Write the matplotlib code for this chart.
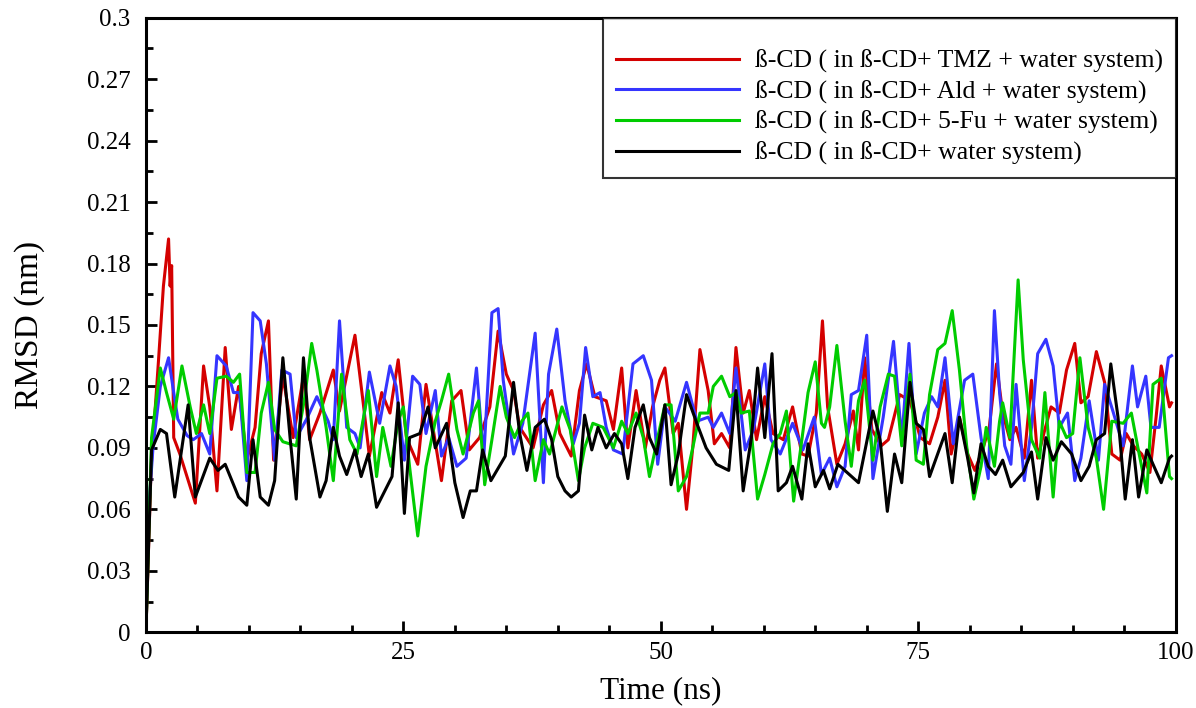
import numpy as np
import matplotlib
matplotlib.use("Agg")
import matplotlib.pyplot as plt
from matplotlib.ticker import MultipleLocator, FuncFormatter

plt.rcParams["font.family"] = ["Liberation Serif", "DejaVu Serif"]

# values (time in ns, RMSD in nm)
t_tmz = [0, 0.5, 1.2, 1.7, 2.2, 2.35, 2.5, 2.7, 3.3, 4.8, 5.6, 6.2, 6.9, 7.7, 8.3, 9.0, 9.8,
         10.6, 11.2, 11.9, 12.4, 13.3, 14.3, 15.3, 15.9, 16.9, 18.2, 18.8, 20.3, 21.1, 21.7,
         22.9, 23.7, 24.5, 25.3, 26.4, 27.2, 27.9, 28.7, 29.7, 30.6, 31.4, 32.4, 33.4, 34.2,
         35.0, 35.7, 36.3, 37.6, 38.6, 39.4, 40.2, 41.3, 42.1, 42.8, 43.6, 44.7, 45.4, 46.2,
         46.8, 47.6, 48.5, 49.2, 49.9, 50.4, 51.2, 51.7, 52.5, 53.1, 53.8, 54.6, 55.2, 55.9,
         56.7, 57.3, 58.0, 58.6, 59.3, 60.1, 60.9, 61.9, 62.8, 63.7, 64.3, 65.1, 65.7, 66.2,
         67.1, 67.9, 68.7, 69.2, 69.8, 70.5, 71.4, 72.1, 73.2, 74.2, 75.2, 76.1, 76.9, 77.6,
         78.2, 79.0, 79.8, 80.5, 81.3, 81.9, 82.6, 83.2, 83.9, 84.5, 85.3, 86.0, 86.6, 87.3,
         87.9, 88.7, 89.4, 90.2, 90.8, 91.5, 92.3, 93.1, 93.8, 94.6, 95.2, 95.9, 96.7, 97.5,
         98.1, 98.6, 99.4, 99.6]
rmsd_tmz = [0.0, 0.080, 0.131, 0.169, 0.192, 0.169, 0.179, 0.095, 0.087, 0.063, 0.130, 0.110,
            0.069, 0.139, 0.099, 0.120, 0.084, 0.100, 0.136, 0.152, 0.084, 0.125, 0.095, 0.125,
            0.094, 0.107, 0.128, 0.108, 0.145, 0.112, 0.086, 0.117, 0.107, 0.133, 0.095, 0.082,
            0.121, 0.099, 0.074, 0.113, 0.118, 0.089, 0.095, 0.110, 0.147, 0.126, 0.118, 0.100,
            0.090, 0.111, 0.118, 0.097, 0.086, 0.118, 0.131, 0.115, 0.113, 0.099, 0.129, 0.090,
            0.118, 0.090, 0.110, 0.123, 0.129, 0.097, 0.102, 0.060, 0.090, 0.138, 0.118, 0.092,
            0.097, 0.090, 0.139, 0.107, 0.118, 0.094, 0.115, 0.097, 0.094, 0.110, 0.087, 0.086,
            0.107, 0.152, 0.110, 0.082, 0.092, 0.108, 0.089, 0.134, 0.099, 0.091, 0.094, 0.116,
            0.113, 0.095, 0.092, 0.105, 0.123, 0.087, 0.105, 0.087, 0.079, 0.090, 0.100, 0.131,
            0.107, 0.094, 0.100, 0.085, 0.123, 0.085, 0.099, 0.110, 0.107, 0.128, 0.141, 0.112,
            0.115, 0.137, 0.122, 0.087, 0.084, 0.097, 0.091, 0.087, 0.078, 0.105, 0.130, 0.110,
            0.112]

t_ald = [0, 0.2, 0.7, 1.4, 2.2, 2.7, 3.1, 4.0, 4.6, 5.4, 6.2, 6.9, 7.8, 8.5, 9.1, 9.8, 10.4,
         11.1, 11.7, 12.5, 13.2, 14.0, 14.6, 15.6, 16.6, 17.7, 18.2, 18.8, 19.5, 20.3, 20.8,
         21.7, 22.7, 23.7, 24.3, 25.1, 25.9, 26.6, 27.2, 28.1, 28.7, 29.4, 30.2, 31.1, 32.1,
         32.8, 33.6, 34.2, 34.7, 35.7, 36.6, 37.8, 38.6, 39.1, 39.9, 40.7, 41.5, 42.1, 42.7,
         43.4, 44.1, 44.7, 45.4, 46.3, 47.3, 48.3, 49.1, 49.7, 50.4, 51.4, 52.5, 53.5, 54.6,
         55.1, 55.9, 56.7, 57.3, 58.2, 59.0, 60.1, 60.7, 61.6, 62.8, 63.8, 64.9, 65.6, 66.4,
         67.1, 67.9, 68.5, 69.2, 70.0, 70.6, 71.6, 72.6, 73.4, 74.1, 74.8, 75.6, 76.3, 76.9,
         77.6, 78.4, 79.5, 80.3, 81.1, 81.8, 82.4, 82.9, 83.4, 84.0, 84.5, 85.3, 86.0, 86.6,
         87.4, 88.1, 88.7, 89.5, 90.2, 90.8, 91.6, 92.5, 93.1, 93.9, 94.9, 95.8, 96.3, 97.1,
         97.6, 98.4, 99.3, 99.6]
rmsd_ald = [0.0, 0.055, 0.091, 0.120, 0.134, 0.117, 0.104, 0.096, 0.094, 0.097, 0.087, 0.135,
            0.130, 0.117, 0.117, 0.074, 0.156, 0.152, 0.131, 0.084, 0.128, 0.126, 0.095, 0.104,
            0.115, 0.103, 0.094, 0.152, 0.100, 0.097, 0.090, 0.127, 0.102, 0.130, 0.120, 0.084,
            0.125, 0.121, 0.097, 0.118, 0.086, 0.095, 0.081, 0.085, 0.129, 0.085, 0.156, 0.158,
            0.123, 0.087, 0.102, 0.146, 0.073, 0.126, 0.148, 0.113, 0.092, 0.102, 0.139, 0.115,
            0.117, 0.100, 0.089, 0.087, 0.131, 0.135, 0.123, 0.082, 0.110, 0.103, 0.122, 0.103,
            0.105, 0.100, 0.107, 0.097, 0.129, 0.089, 0.099, 0.131, 0.094, 0.087, 0.102, 0.089,
            0.105, 0.077, 0.085, 0.071, 0.081, 0.116, 0.118, 0.145, 0.075, 0.105, 0.142, 0.094,
            0.141, 0.087, 0.107, 0.115, 0.110, 0.134, 0.092, 0.123, 0.126, 0.095, 0.075, 0.157,
            0.117, 0.091, 0.082, 0.121, 0.074, 0.100, 0.136, 0.143, 0.130, 0.100, 0.107, 0.074,
            0.085, 0.113, 0.084, 0.121, 0.108, 0.091, 0.130, 0.110, 0.125, 0.100, 0.100, 0.134,
            0.135]

t_5fu = [0, 0.55, 1.4, 2.0, 2.7, 3.5, 4.3, 4.9, 5.6, 6.2, 6.9, 7.8, 8.5, 9.1, 9.8, 10.6, 11.2,
         11.9, 12.5, 13.3, 14.6, 15.4, 16.1, 16.6, 17.5, 18.2, 19.0, 19.8, 20.5, 21.6, 22.4,
         23.0, 23.8, 24.5, 25.0, 25.6, 26.4, 27.2, 28.1, 28.7, 29.4, 30.2, 30.8, 31.8, 32.3,
         32.9, 33.6, 34.4, 35.0, 35.8, 36.5, 37.1, 37.8, 38.6, 39.2, 40.4, 41.2, 42.0, 42.6,
         43.4, 44.4, 45.4, 46.2, 46.8, 47.6, 48.3, 48.9, 49.7, 50.4, 51.0, 51.7, 52.5, 53.1,
         53.8, 54.6, 55.1, 55.9, 56.7, 57.3, 57.8, 58.6, 59.4, 60.1, 60.9, 61.6, 62.2, 62.9,
         63.7, 64.3, 65.0, 65.6, 65.9, 66.4, 67.1, 67.9, 68.5, 69.2, 69.8, 70.6, 71.3, 72.1,
         72.7, 73.4, 74.2, 74.8, 75.5, 76.1, 76.9, 77.6, 78.3, 79.0, 79.7, 80.4, 81.1, 81.6,
         82.4, 82.9, 83.2, 83.9, 84.7, 85.2, 86.0, 86.8, 87.3, 88.1, 88.7, 89.4, 90.0, 90.7,
         91.5, 92.3, 93.0, 93.8, 94.9, 95.7, 96.3, 97.2, 97.8, 98.6, 99.4, 99.6]
rmsd_5fu = [0.0, 0.095, 0.129, 0.117, 0.104, 0.130, 0.110, 0.097, 0.111, 0.097, 0.124, 0.125,
            0.122, 0.126, 0.078, 0.078, 0.107, 0.122, 0.099, 0.093, 0.091, 0.114, 0.141, 0.128,
            0.100, 0.074, 0.126, 0.094, 0.087, 0.118, 0.076, 0.100, 0.081, 0.103, 0.110, 0.081,
            0.047, 0.081, 0.103, 0.113, 0.126, 0.099, 0.087, 0.107, 0.113, 0.072, 0.094, 0.120,
            0.105, 0.095, 0.103, 0.107, 0.074, 0.094, 0.087, 0.110, 0.099, 0.074, 0.090, 0.102,
            0.100, 0.090, 0.103, 0.097, 0.107, 0.095, 0.076, 0.095, 0.111, 0.111, 0.069, 0.076,
            0.090, 0.107, 0.107, 0.120, 0.125, 0.115, 0.117, 0.107, 0.108, 0.065, 0.077, 0.092,
            0.097, 0.108, 0.064, 0.094, 0.117, 0.132, 0.102, 0.100, 0.110, 0.140, 0.103, 0.081,
            0.113, 0.123, 0.084, 0.110, 0.126, 0.125, 0.091, 0.126, 0.084, 0.082, 0.116, 0.138,
            0.141, 0.157, 0.128, 0.091, 0.065, 0.081, 0.100, 0.081, 0.103, 0.112, 0.095, 0.172,
            0.133, 0.094, 0.085, 0.117, 0.066, 0.103, 0.095, 0.097, 0.134, 0.100, 0.085, 0.060,
            0.103, 0.102, 0.107, 0.091, 0.068, 0.121, 0.124, 0.076, 0.075]

t_water = [0, 0.55, 1.4, 2.0, 2.8, 4.1, 4.8, 6.2, 7.0, 7.7, 9.0, 9.8, 10.4, 11.1, 11.9, 12.5,
           13.3, 14.0, 14.6, 15.3, 15.9, 16.9, 17.5, 18.2, 18.8, 19.5, 20.3, 20.9, 21.6, 22.4,
           23.2, 23.9, 24.5, 25.1, 25.6, 26.6, 27.4, 28.1, 29.2, 30.0, 30.8, 31.5, 32.1, 32.7,
           33.5, 34.9, 35.7, 36.3, 37.0, 37.8, 38.7, 39.4, 40.0, 40.7, 41.3, 42.0, 42.6, 43.3,
           43.9, 44.7, 45.5, 46.2, 46.8, 47.5, 48.3, 48.9, 49.6, 50.4, 51.0, 51.7, 52.5, 53.5,
           54.4, 55.4, 56.6, 57.3, 58.0, 58.8, 59.4, 60.1, 60.8, 61.4, 62.2, 62.8, 63.7, 64.3,
           65.0, 65.8, 66.4, 67.2, 69.2, 70.6, 71.3, 72.0, 72.7, 73.4, 74.2, 74.8, 75.5, 76.1,
           77.6, 78.3, 79.0, 79.8, 80.4, 81.1, 81.8, 82.5, 83.2, 84.0, 85.2, 86.0, 86.6, 87.4,
           88.1, 88.9, 89.9, 90.8, 91.6, 92.3, 93.1, 93.7, 94.4, 95.1, 95.8, 96.4, 97.2, 97.8,
           98.6, 99.4, 99.6]
rmsd_water = [0.0, 0.089, 0.099, 0.097, 0.066, 0.111, 0.066, 0.085, 0.079, 0.082, 0.066,
              0.062, 0.094, 0.066, 0.062, 0.074, 0.134, 0.095, 0.065, 0.134, 0.095, 0.066,
              0.074, 0.100, 0.086, 0.077, 0.089, 0.076, 0.087, 0.061, 0.069, 0.076, 0.112,
              0.058, 0.095, 0.097, 0.110, 0.090, 0.102, 0.073, 0.056, 0.069, 0.069, 0.089,
              0.074, 0.086, 0.122, 0.097, 0.079, 0.100, 0.104, 0.094, 0.076, 0.069, 0.066,
              0.069, 0.106, 0.089, 0.100, 0.090, 0.097, 0.092, 0.075, 0.100, 0.111, 0.095,
              0.087, 0.111, 0.072, 0.087, 0.116, 0.102, 0.090, 0.082, 0.079, 0.118, 0.069,
              0.095, 0.129, 0.095, 0.136, 0.069, 0.073, 0.081, 0.065, 0.092, 0.071, 0.079,
              0.070, 0.082, 0.073, 0.108, 0.094, 0.059, 0.087, 0.073, 0.122, 0.102, 0.099,
              0.076, 0.097, 0.073, 0.105, 0.085, 0.068, 0.092, 0.081, 0.077, 0.084, 0.071,
              0.078, 0.088, 0.065, 0.095, 0.084, 0.093, 0.087, 0.074, 0.081, 0.094, 0.097,
              0.131, 0.105, 0.065, 0.094, 0.066, 0.089, 0.082, 0.073, 0.085, 0.086]

labels = ["ß-CD ( in ß-CD+ TMZ + water system)",
          "ß-CD ( in ß-CD+ Ald + water system)",
          "ß-CD ( in ß-CD+ 5-Fu + water system)",
          "ß-CD ( in ß-CD+ water system)"]
colors = ["#d40000", "#3535ff", "#00cc00", "black"]

fig = plt.figure(figsize=(11.96, 7.08), dpi=100)
ax = fig.add_axes([0.122, 0.107, 0.861, 0.868])

series = [(t_tmz, rmsd_tmz), (t_ald, rmsd_ald), (t_5fu, rmsd_5fu), (t_water, rmsd_water)]
for (t, r), lab, c in zip(series, labels, colors):
    ax.plot(t, r, color=c, lw=2.2, label=lab)

ax.set_xlim(0, 100)
ax.set_ylim(0, 0.3)
ax.xaxis.set_major_locator(MultipleLocator(25))
ax.xaxis.set_minor_locator(MultipleLocator(5))
ax.yaxis.set_major_locator(MultipleLocator(0.03))
ax.yaxis.set_minor_locator(MultipleLocator(0.015))
ax.yaxis.set_major_formatter(FuncFormatter(lambda v, p: "%g" % round(v, 3)))
ax.tick_params(which="both", direction="in", labelsize=18, width=2)
ax.tick_params(axis="x", which="major", pad=7)
ax.tick_params(axis="y", which="major", pad=11)
ax.tick_params(which="major", length=8)
ax.tick_params(which="minor", length=5)
for s in ax.spines.values():
    s.set_linewidth(2.2)

ax.set_xlabel("Time (ns)", fontsize=22.5, labelpad=9)
ax.set_ylabel("RMSD (nm)", fontsize=24)
ax.yaxis.set_label_coords(-0.098, 0.5)

leg = ax.legend(loc="upper right", fontsize=18.5, frameon=True, fancybox=False,
                borderaxespad=0, handlelength=4.8, handletextpad=0.6, labelspacing=0.28,
                borderpad=0.5, title=" ", title_fontsize=9)
leg.get_frame().set_edgecolor("black")
leg.get_frame().set_linewidth(1.5)

fig.savefig("out.png", dpi=100)
